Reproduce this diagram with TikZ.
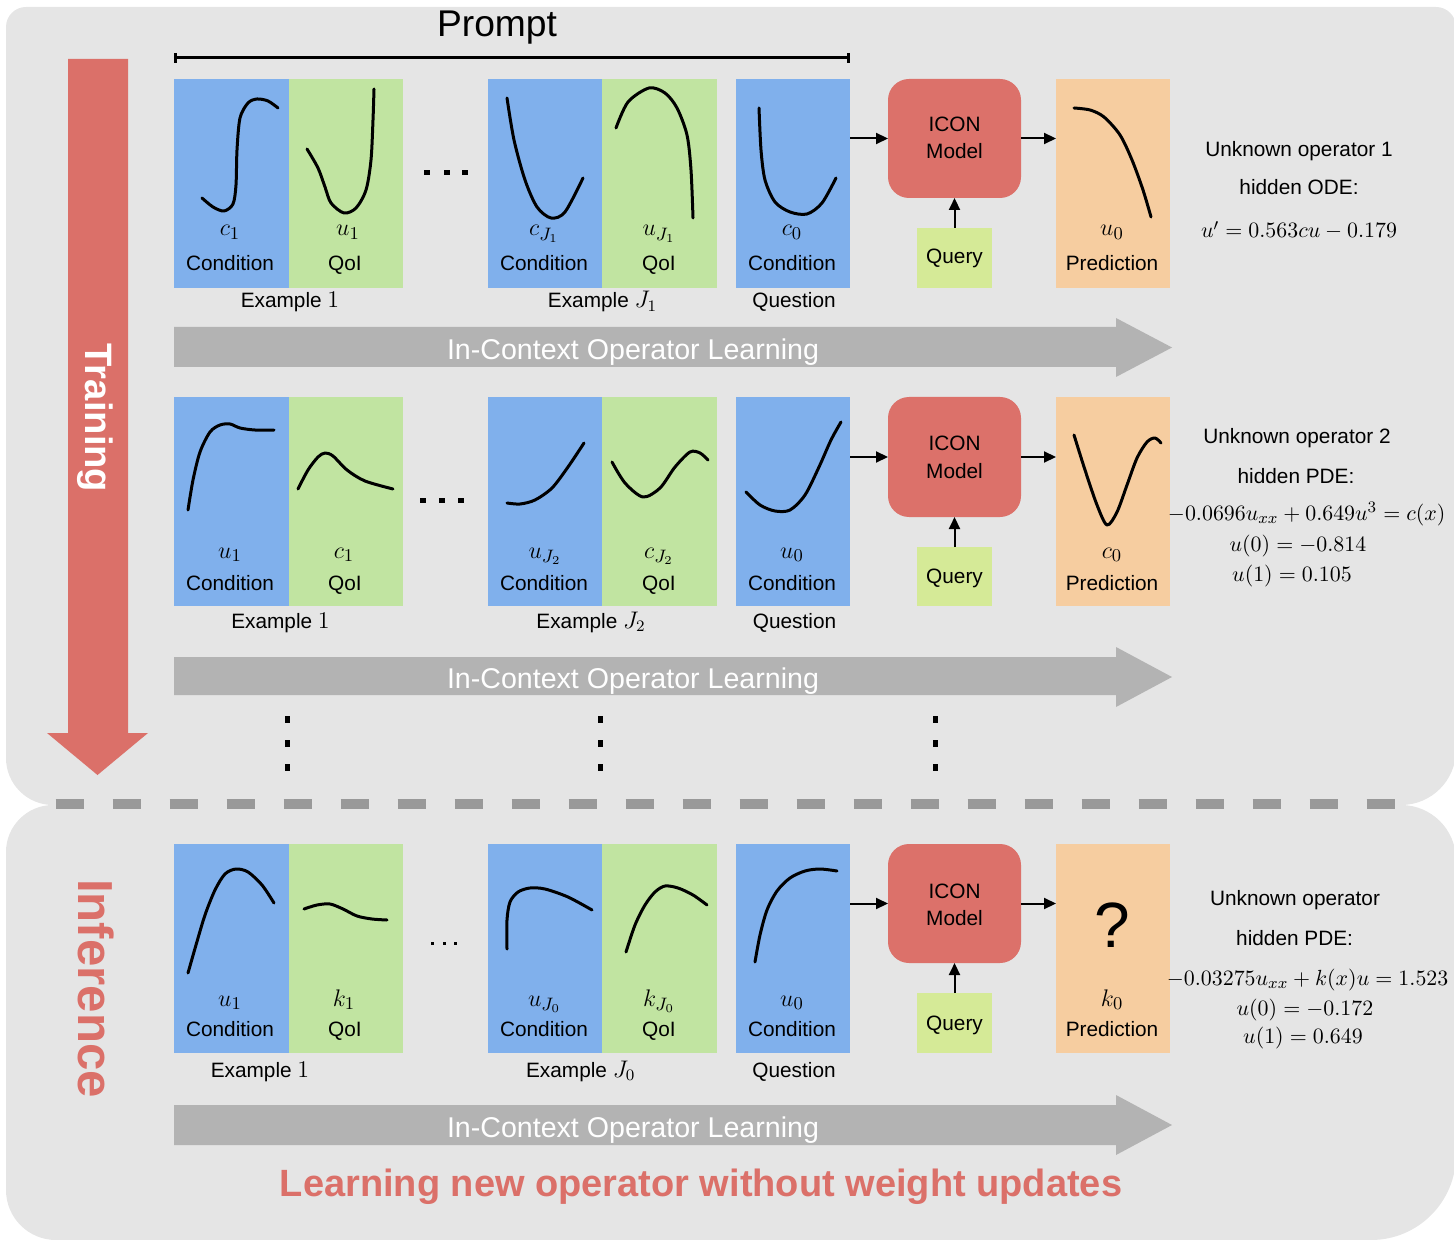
\documentclass[tikz,border=0pt]{standalone}
\usepackage{fontspec}
\setmainfont{Liberation Sans}
\usetikzlibrary{arrows.meta}
\definecolor{bg}{HTML}{E5E5E5}
\definecolor{condblue}{HTML}{80B0EC}
\definecolor{qoigreen}{HTML}{C1E4A1}
\definecolor{modelred}{HTML}{DC716A}
\definecolor{querygreen}{HTML}{D5EA97}
\definecolor{predorange}{HTML}{F6CDA0}
\definecolor{flowgray}{HTML}{B3B3B3}
\definecolor{dashgray}{HTML}{999999}
\definecolor{accent}{HTML}{DB7069}
% a filled panel given by its corners (in pixel units)
\newcommand\panel[6]{\node[#2, anchor=north west, minimum width={(#5-#3)*0.5pt}, minimum height={(#6-#4)*0.5pt}] (#1) at (#3,#4) {};}
% slightly larger math inside the example captions
\newcommand\capmath[1]{{\fontsize{11.6pt}{13pt}\selectfont$#1$}}
\begin{document}
\begin{tikzpicture}[x=0.5pt,y=-0.5pt, font=\fontsize{10.4pt}{12pt}\selectfont,
  panel/.style={draw=none, inner sep=0pt, outer sep=0pt},
  cond/.style={panel, fill=condblue},
  qoi/.style={panel, fill=qoigreen},
  model/.style={panel, fill=modelred, rounded corners=10.5pt},
  query/.style={panel, fill=querygreen},
  pred/.style={panel, fill=predorange},
  curve/.style={line width=1.5pt, line cap=round, line join=round},
  arr/.style={line width=1pt, -{Triangle[length=6pt,width=5.5pt]}},
  lbl/.style={anchor=base, inner sep=0pt},
  sym/.style={lbl, font=\fontsize{12.6pt}{14pt}\selectfont},
  eqn/.style={lbl, font=\fontsize{11.1pt}{13pt}\selectfont},
  flow/.style={fill=flowgray},
  flowtext/.style={anchor=base, inner sep=0pt, text=white, font=\fontsize{14.3pt}{16pt}\selectfont},
]
\useasboundingbox (0,0) rectangle (1454,1240);

% ---------- background regions ----------
\fill[bg] (26,7) -- (1436,7) arc[start angle=270,end angle=360,radius=20]
  -- (1456,750) arc[start angle=0,end angle=90,radius=55]
  -- (53,805) arc[start angle=90,end angle=180,radius=47]
  -- (6,27) arc[start angle=180,end angle=270,radius=20] -- cycle;
\fill[bg] (53,805) -- (1401,805) arc[start angle=270,end angle=360,radius=55]
  -- (1456,1155) arc[start angle=0,end angle=90,radius=85]
  -- (56,1240) arc[start angle=90,end angle=180,radius=50]
  -- (6,852) arc[start angle=180,end angle=270,radius=47] -- cycle;
\draw[dashgray, line width=5pt, dash pattern=on 14pt off 14.5pt] (55.7,804) -- (1399,804);

% ---------- training arrow ----------
\fill[accent] (68,59) -- (128,59) -- (128,733) -- (148,733) -- (97.5,775) -- (47,733) -- (68,733) -- cycle;
\node[rotate=-90, anchor=base, inner sep=0pt, text=white, font=\bfseries\fontsize{19.1pt}{21pt}\selectfont] (training) at (85,418) {Training};
\node[rotate=-90, anchor=base, inner sep=0pt, text=accent, font=\bfseries\fontsize{24.6pt}{26pt}\selectfont] (inference) at (78,988.5) {Inference};

% ---------- prompt bracket ----------
\node[lbl, font=\fontsize{18.6pt}{20pt}\selectfont] (prompt) at (497,37) {Prompt};
\coordinate (pl) at (174,58);
\coordinate (pr) at (850,58);
\draw[line width=1.5pt, {Bar[width=5pt]}-{Bar[width=5pt]}] (pl) -- (pr);

% ================= row 1 =================
\panel{a1}{cond}{174}{79}{289}{288}
\panel{b1}{qoi}{289}{79}{403}{288}
\panel{c1}{cond}{488}{79}{602}{288}
\panel{d1}{qoi}{602}{79}{717}{288}
\panel{q1}{cond}{736}{79}{850}{288}
\panel{m1}{model}{888}{79}{1021}{198}
\panel{y1}{query}{917}{228}{992}{288}
\panel{p1}{pred}{1056}{79}{1170}{288}
\draw[arr] (q1.east |- m1.west) -- (m1.west);
\draw[arr] (m1.east) -- (m1.east -| p1.west);
\draw[arr] (y1.north) -- (m1.south);

\draw[curve] plot[smooth] coordinates {(202,198) (213,207) (224,211) (233,204) (236,185) (237,150) (240,118) (248,103) (257,99) (268,101) (278,108)};
\draw[curve] plot[smooth] coordinates {(307,149) (318,168) (325,187) (331,203) (344,213) (356,208) (366,190) (371,160) (373,120) (374,89)};
\draw[curve] plot[smooth] coordinates {(507,98) (514,140) (525,180) (537,207) (551,218) (565,212) (583,178)};
\draw[curve] plot[smooth] coordinates {(616,128) (628,102) (649,88) (665,93) (677,108) (687,135) (691,170) (693,218)};
\draw[curve] plot[smooth] coordinates {(759,108) (761,150) (765,180) (775,202) (790,212) (807,214) (822,203) (836,178)};
\draw[curve] plot[smooth] coordinates {(1074,108) (1090,110) (1104,117) (1120,135) (1132,160) (1143,190) (1151,217)};

\node[sym] (a1s) at (230,236) {$c_1$};
\node[lbl] (a1t) at (230,270.5) {Condition};
\node[sym] (b1s) at (348,236) {$u_1$};
\node[lbl] (b1t) at (345,270.5) {QoI};
\node[sym] (c1s) at (544,236) {$c_{J_1}$};
\node[lbl] (c1t) at (544,270.5) {Condition};
\node[sym] (d1s) at (659,236) {$u_{J_1}$};
\node[lbl] (d1t) at (659,270.5) {QoI};
\node[sym] (q1s) at (792,236) {$c_0$};
\node[lbl] (q1t) at (792,270.5) {Condition};
\node[sym] (p1s) at (1112,236) {$u_0$};
\node[lbl] (p1t) at (1112,270.5) {Prediction};
\node[lbl] (y1t) at (954.5,264) {Query};
\node[lbl] (m1a) at (954.5,131.5) {ICON};
\node[lbl] (m1b) at (954.5,159) {Model};
\node[lbl] (e1a) at (290,308) {Example \capmath{1}};
\node[lbl] (e1b) at (602.5,308) {Example \capmath{J_1}};
\node[lbl] (e1q) at (794,308) {Question};
\node[lbl] (op1) at (1299,156.5) {Unknown operator 1};
\node[lbl] (hid1) at (1299,195) {hidden ODE:};
\node[eqn] (eqa1) at (1299,238) {$u' = 0.563cu - 0.179$};
\foreach \dx in {427,447,465} \fill (\dx-3,170.5) rectangle (\dx+3,175.5);

\fill[flow] (174,327) -- (1116,327) -- (1116,318) -- (1172,347.5) -- (1116,377) -- (1116,367) -- (174,367) -- cycle;
\node[flowtext] (icol1) at (633,360) {In-Context Operator Learning};

% ================= row 2 =================
\panel{a2}{cond}{174}{397}{289}{606}
\panel{b2}{qoi}{289}{397}{403}{606}
\panel{c2}{cond}{488}{397}{602}{606}
\panel{d2}{qoi}{602}{397}{717}{606}
\panel{q2}{cond}{736}{397}{850}{606}
\panel{m2}{model}{888}{397}{1021}{517}
\panel{y2}{query}{917}{547}{992}{606}
\panel{p2}{pred}{1056}{397}{1170}{606}
\draw[arr] (q2.east |- m2.west) -- (m2.west);
\draw[arr] (m2.east) -- (m2.east -| p2.west);
\draw[arr] (y2.north) -- (m2.south);

\draw[curve] plot[smooth] coordinates {(188,510) (193,480) (200,452) (210,432) (220,425) (230,424) (240,428) (255,430) (274,430)};
\draw[curve] plot[smooth] coordinates {(298,489) (308,470) (318,457) (325,453) (333,456) (347,470) (365,481) (393,489)};
\draw[curve] plot[smooth] coordinates {(507,503) (520,504) (535,500) (552,488) (568,467) (584,443)};
\draw[curve] plot[smooth] coordinates {(612,462) (625,483) (643,497) (660,488) (675,467) (690,452) (700,453) (708,460)};
\draw[curve] plot[smooth] coordinates {(746,492) (760,505) (775,511) (790,510) (805,495) (819,467) (831,440) (841,422)};
\draw[curve] plot[smooth] coordinates {(1074,435) (1085,470) (1097,505) (1107,525) (1117,512) (1127,485) (1137,458) (1147,442) (1155,438) (1161,443)};

\node[sym] (a2s) at (230,558) {$u_1$};
\node[lbl] (a2t) at (230,590) {Condition};
\node[sym] (b2s) at (344,558) {$c_1$};
\node[lbl] (b2t) at (345,590) {QoI};
\node[sym] (c2s) at (545,558) {$u_{J_2}$};
\node[lbl] (c2t) at (544,590) {Condition};
\node[sym] (d2s) at (659,558) {$c_{J_2}$};
\node[lbl] (d2t) at (659,590) {QoI};
\node[sym] (q2s) at (792,558) {$u_0$};
\node[lbl] (q2t) at (792,590) {Condition};
\node[sym] (p2s) at (1112,558) {$c_0$};
\node[lbl] (p2t) at (1112,590) {Prediction};
\node[lbl] (y2t) at (954.5,583) {Query};
\node[lbl] (m2a) at (954.5,451) {ICON};
\node[lbl] (m2b) at (954.5,478) {Model};
\node[lbl] (e2a) at (280.5,628) {Example \capmath{1}};
\node[lbl] (e2b) at (591,628) {Example \capmath{J_2}};
\node[lbl] (e2q) at (794.5,628) {Question};
\node[lbl] (op2) at (1297,443.3) {Unknown operator 2};
\node[lbl] (hid2) at (1296,483) {hidden PDE:};
\node[eqn] (eqa2) at (1306.7,520) {$-0.0696u_{xx} + 0.649u^3 = c(x)$};
\node[eqn] (eqb2) at (1298,551.7) {$u(0) = -0.814$};
\node[eqn] (eqc2) at (1292,581.7) {$u(1) = 0.105$};
\foreach \dx in {423,442,461} \fill (\dx-3,498) rectangle (\dx+3,503);

\fill[flow] (174,657) -- (1116,657) -- (1116,647) -- (1172,677) -- (1116,707) -- (1116,695) -- (174,695) -- cycle;
\node[flowtext] (icol2) at (633,688) {In-Context Operator Learning};

% vertical ellipses between the training rows and inference
\foreach \cx in {287.5,600,935}
  \foreach \cy in {719,743,767}
    \fill (\cx-2.5,\cy-3.5) rectangle (\cx+2.5,\cy+3.5);

% ================= row 3 (inference) =================
\panel{a3}{cond}{174}{844}{289}{1053}
\panel{b3}{qoi}{289}{844}{403}{1053}
\panel{c3}{cond}{488}{844}{602}{1053}
\panel{d3}{qoi}{602}{844}{717}{1053}
\panel{q3}{cond}{736}{844}{850}{1053}
\panel{m3}{model}{888}{844}{1021}{963}
\panel{y3}{query}{917}{993}{992}{1053}
\panel{p3}{pred}{1056}{844}{1170}{1053}
\draw[arr] (q3.east |- m3.west) -- (m3.west);
\draw[arr] (m3.east) -- (m3.east -| p3.west);
\draw[arr] (y3.north) -- (m3.south);

\draw[curve] plot[smooth] coordinates {(188,973) (196,945) (205,915) (215,890) (225,874) (236,869) (248,872) (262,885) (274,903)};
\draw[curve] plot[smooth] coordinates {(304,909) (317,905) (330,904) (343,909) (357,916) (372,919) (387,920)};
\draw[curve] plot[smooth] coordinates {(507,949) (507,920) (510,902) (518,892) (530,888) (545,889) (568,897) (592,910)};
\draw[curve] plot[smooth] coordinates {(626,952) (635,925) (645,905) (655,892) (665,886) (678,888) (693,895) (707,905)};
\draw[curve] plot[smooth] coordinates {(755,962) (760,935) (767,910) (777,891) (790,878) (805,871) (820,869) (837,871)};

\node[sym] (a3s) at (230,1006) {$u_1$};
\node[lbl] (a3t) at (230,1036) {Condition};
\node[sym] (b3s) at (344,1006) {$k_1$};
\node[lbl] (b3t) at (345,1036) {QoI};
\node[sym] (c3s) at (544.5,1006) {$u_{J_0}$};
\node[lbl] (c3t) at (544,1036) {Condition};
\node[sym] (d3s) at (659,1006) {$k_{J_0}$};
\node[lbl] (d3t) at (659,1036) {QoI};
\node[sym] (q3s) at (792,1006) {$u_0$};
\node[lbl] (q3t) at (792,1036) {Condition};
\node[lbl, font=\fontsize{32pt}{34pt}\selectfont] (qmark) at (1112,947) {?};
\node[sym] (p3s) at (1112,1006) {$k_0$};
\node[lbl] (p3t) at (1112,1036) {Prediction};
\node[lbl] (y3t) at (954.5,1030) {Query};
\node[lbl] (m3a) at (954.5,898) {ICON};
\node[lbl] (m3b) at (954.5,925) {Model};
\node[lbl] (e3a) at (260,1077) {Example \capmath{1}};
\node[lbl] (e3b) at (580.7,1077) {Example \capmath{J_0}};
\node[lbl] (e3q) at (794,1077) {Question};
\node[lbl] (op3) at (1295,905) {Unknown operator};
\node[lbl] (hid3) at (1294.6,945) {hidden PDE:};
\node[eqn] (eqa3) at (1307.6,985) {$-0.03275u_{xx} + k(x)u = 1.523$};
\node[eqn] (eqb3) at (1305,1015) {$u(0) = -0.172$};
\node[eqn] (eqc3) at (1303,1043) {$u(1) = 0.649$};
\foreach \dx in {432,444,455} \fill (\dx-1.5,941.5) rectangle (\dx+1.5,944.5);

\fill[flow] (174,1105) -- (1116,1105) -- (1116,1095) -- (1172,1125) -- (1116,1155) -- (1116,1145) -- (174,1145) -- cycle;
\node[flowtext] (icol3) at (633,1137) {In-Context Operator Learning};

\node[lbl, text=accent, font=\bfseries\fontsize{19pt}{21pt}\selectfont] (motto) at (701,1196.5) {Learning new operator without weight updates};
\end{tikzpicture}
\end{document}
